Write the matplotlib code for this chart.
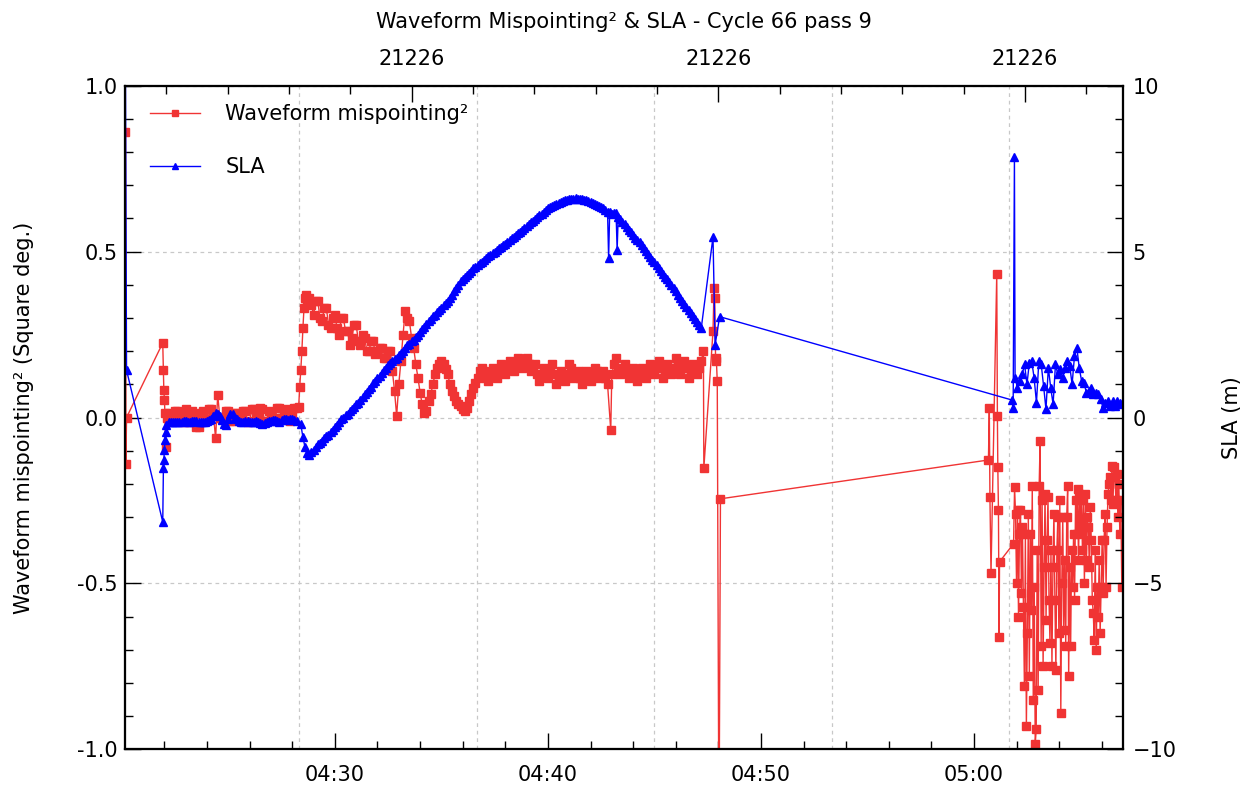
import numpy as np
import matplotlib
matplotlib.use('Agg')
import matplotlib.pyplot as plt
import matplotlib.dates as mdates
from matplotlib.ticker import MultipleLocator, FormatStrFormatter

RED = '#f03434'
BLUE = '#0000ff'
GRID = '#c8c8c8'

# time axis: minutes after 04:20:00
day0 = np.datetime64('2009-01-01T04:20:00')

# ---- waveform mispointing^2 (square deg.) ----
mis_head_t = [0.17, 0.19, 0.22, 1.92, 1.95, 1.97, 2.0, 2.02, 2.05, 2.1]
mis_head_v = [0.86, -0.14, 0.0, 0.225, 0.143, 0.083, 0.053, 0.013, -0.088, 0.0]
# 2.2 .. 8.2 min
mis_flat_v = [0.015, 0.0, -0.01, 0.02, 0.02, 0.005, 0.0, -0.015, 0.025, 0.01,
              -0.015, 0.02, 0.01, -0.03, -0.03, 0.015, 0.02, -0.01, -0.005, 0.025,
              0.025, 0.01, -0.063, 0.068, 0.0, -0.005, 0.0, 0.02, 0.02, -0.01,
              -0.01, 0.015, 0.015, -0.005, 0.0, 0.02, 0.02, -0.015, -0.01, 0.025,
              0.025, 0.0, 0.005, 0.03, 0.025, -0.01, -0.01, 0.02, 0.015, -0.005,
              0.0, 0.03, 0.03, 0.0, 0.01, 0.025, 0.02, -0.01, 0.005, 0.03, 0.03]
mis_rise_t = [8.3, 8.35, 8.4, 8.45, 8.5, 8.55, 8.6, 8.65, 8.7]
mis_rise_v = [0.033, 0.093, 0.143, 0.2, 0.27, 0.33, 0.36, 0.37, 0.35]
# 8.8 .. 12.6 min
mis_decl_v = [0.36, 0.34, 0.31, 0.35, 0.35, 0.3, 0.29, 0.33, 0.33, 0.28,
              0.27, 0.3, 0.31, 0.27, 0.25, 0.3, 0.3, 0.26, 0.26, 0.22,
              0.24, 0.28, 0.28, 0.23, 0.22, 0.25, 0.24, 0.2, 0.2, 0.23,
              0.23, 0.19, 0.2, 0.21, 0.21, 0.18, 0.18, 0.2, 0.2]
# 12.7 .. 16.9 min
mis_osc_v = [0.14, 0.08, 0.005, 0.10, 0.17, 0.25, 0.32, 0.30, 0.29, 0.24,
             0.21, 0.16, 0.12, 0.075, 0.04, 0.015, 0.02, 0.05, 0.07, 0.10,
             0.13, 0.15, 0.16, 0.17, 0.16, 0.145, 0.13, 0.10, 0.08, 0.065,
             0.05, 0.04, 0.035, 0.025, 0.02, 0.03, 0.05, 0.07, 0.09, 0.105,
             0.12, 0.14, 0.15]
# 17.0 .. 22.8 min
mis_band1_v = [0.14, 0.12, 0.11, 0.13, 0.15, 0.14, 0.12, 0.14, 0.16, 0.15,
               0.13, 0.15, 0.17, 0.16, 0.14, 0.16, 0.18, 0.17, 0.15, 0.16,
               0.18, 0.16, 0.14, 0.15, 0.16, 0.13, 0.11, 0.13, 0.15, 0.14,
               0.12, 0.14, 0.16, 0.13, 0.10, 0.12, 0.14, 0.13, 0.11, 0.13,
               0.16, 0.15, 0.12, 0.13, 0.14, 0.12, 0.10, 0.12, 0.14, 0.13,
               0.11, 0.13, 0.15, 0.14, 0.12, 0.13, 0.14, 0.12, 0.10]
mis_spike_t = [22.95]
mis_spike_v = [-0.038]
# 23.0 .. 27.2 min
mis_band2_v = [0.13, 0.16, 0.18, 0.15, 0.13, 0.14, 0.16, 0.14, 0.12, 0.13,
               0.15, 0.13, 0.11, 0.13, 0.15, 0.14, 0.12, 0.14, 0.16, 0.15,
               0.13, 0.15, 0.17, 0.15, 0.12, 0.14, 0.16, 0.15, 0.13, 0.15,
               0.18, 0.16, 0.13, 0.15, 0.17, 0.15, 0.12, 0.14, 0.16, 0.15,
               0.13, 0.15, 0.17]
mis_gap_t = [27.3, 27.32, 27.75, 27.8, 27.83, 27.87, 27.91, 27.95, 28.03, 28.1,
             40.68, 40.72, 40.75, 40.8, 41.07, 41.1, 41.12, 41.15, 41.18, 41.2]
mis_gap_v = [0.20, -0.153, 0.26, 0.39, 0.36, 0.18, 0.17, 0.11, -1.3, -0.245,
             -0.128, 0.028, -0.24, -0.47, 0.432, 0.005, -0.15, -0.28, -0.66, -0.435]
# 41.86 .. 46.94 min
mis_tail_v = [-0.38, -0.21, -0.29, -0.50, -0.28, -0.60, -0.35, -0.28, -0.53, -0.33,
              -0.57, -0.81, -0.35, -0.93, -0.65, -0.29, -0.78, -0.35, -0.58, -0.205,
              -0.85, -0.51, -0.985, -0.94, -0.40, -0.82, -0.205, -0.07, -0.69, -0.25,
              -0.75, -0.45, -0.23, -0.61, -0.37, -0.24, -0.55, -0.68, -0.40, -0.75,
              -0.45, -0.29, -0.55, -0.76, -0.40, -0.30, -0.65, -0.25, -0.89, -0.50,
              -0.30, -0.64, -0.43, -0.69, -0.30, -0.205, -0.78, -0.45, -0.69, -0.40,
              -0.51, -0.35, -0.55, -0.25, -0.35, -0.215, -0.43, -0.23, -0.33, -0.25,
              -0.40, -0.25, -0.50, -0.23, -0.43, -0.30, -0.33, -0.45, -0.27, -0.37,
              -0.55, -0.59, -0.67, -0.40, -0.70, -0.51, -0.60, -0.43, -0.65, -0.51,
              -0.37, -0.53, -0.37, -0.29, -0.51, -0.33, -0.23, -0.20, -0.18, -0.25,
              -0.145, -0.26, -0.15, -0.18, -0.25, -0.17, -0.30, -0.20, -0.35, -0.25,
              -0.51]

# ---- SLA (m) ----
sla_head_t = [0.16, 0.22, 1.92, 1.95, 1.97, 2.0, 2.02, 2.05, 2.08]
sla_head_v = [12.0, 1.43, -3.15, -1.53, -1.28, -0.98, -0.68, -0.43, -0.23]
# 2.2 .. 8.2 min
sla_flat_v = [-0.15, -0.13, -0.12, -0.14, -0.15, -0.13, -0.12, -0.11, -0.1, -0.12,
              -0.13, -0.11, -0.1, -0.11, -0.12, -0.14, -0.15, -0.12, -0.1, -0.08,
              -0.05, 0.05, 0.15, 0.12, 0.05, -0.08, -0.2, -0.22, -0.05, 0.12,
              0.1, -0.02, -0.05, -0.1, -0.12, -0.12, -0.1, -0.1, -0.12, -0.15,
              -0.12, -0.1, -0.15, -0.18, -0.2, -0.18, -0.12, -0.1, -0.1, -0.08,
              -0.08, -0.1, -0.12, -0.08, -0.05, -0.05, -0.08, -0.05, -0.05, -0.08, -0.1]
# 8.4 .. 22.8 min
sla_arc1_v = [-0.2, -0.6, -0.9, -1.08, -1.13, -1.05, -0.97, -0.9, -0.8, -0.78,
              -0.7, -0.62, -0.57, -0.52, -0.43, -0.38, -0.28, -0.22, -0.13, -0.05,
              0.0, 0.08, 0.12, 0.2, 0.25, 0.33, 0.4, 0.45, 0.53, 0.62,
              0.7, 0.77, 0.87, 0.93, 1.03, 1.1, 1.2, 1.26, 1.35, 1.42,
              1.5, 1.58, 1.65, 1.7, 1.76, 1.8, 1.87, 1.95, 2.02, 2.1,
              2.18, 2.22, 2.3, 2.35, 2.42, 2.5, 2.57, 2.66, 2.73, 2.82,
              2.9, 2.97, 3.05, 3.1, 3.18, 3.24, 3.31, 3.38, 3.46, 3.52,
              3.6, 3.7, 3.8, 3.9, 4.0, 4.1, 4.18, 4.24, 4.3, 4.36,
              4.42, 4.5, 4.55, 4.6, 4.65, 4.7, 4.76, 4.8, 4.86, 4.9,
              4.96, 5.0, 5.05, 5.1, 5.15, 5.2, 5.24, 5.3, 5.34, 5.4,
              5.45, 5.5, 5.55, 5.6, 5.66, 5.72, 5.77, 5.82, 5.88, 5.93,
              5.98, 6.04, 6.09, 6.14, 6.19, 6.25, 6.3, 6.34, 6.38, 6.42,
              6.45, 6.48, 6.51, 6.53, 6.55, 6.57, 6.58, 6.6, 6.6, 6.61,
              6.6, 6.6, 6.58, 6.57, 6.55, 6.52, 6.5, 6.48, 6.45, 6.42,
              6.38, 6.34, 6.3, 6.25, 6.2]
sla_arc2_t = [22.85, 22.9, 23.0, 23.1, 23.2, 23.25, 23.3]
sla_arc2_v = [4.8, 6.18, 6.12, 6.15, 6.15, 5.05, 6.05]
# 23.4 .. 27.2 min
sla_arc3_v = [5.98, 5.9, 5.82, 5.74, 5.65, 5.58, 5.5, 5.42, 5.35, 5.28,
              5.2, 5.1, 5.02, 4.94, 4.85, 4.76, 4.68, 4.6, 4.51, 4.42,
              4.34, 4.25, 4.17, 4.08, 3.98, 3.9, 3.8, 3.7, 3.6, 3.52,
              3.43, 3.34, 3.25, 3.15, 3.05, 2.96, 2.87, 2.78, 2.7]
sla_gap_t = [27.75, 27.85, 28.06, 41.77, 41.84, 41.9]
sla_gap_v = [5.44, 2.19, 3.04, 0.53, 0.28, 7.86]
# 41.93 .. 46.95 min
sla_tail_v = [1.2, 0.9, 1.1, 1.3, 1.6, 1.0, 1.65, 1.7, 1.2, 0.45,
              1.7, 1.6, 0.95, 0.25, 1.5, 0.9, 0.4, 1.6, 1.3, 1.45,
              1.2, 1.5, 1.7, 1.55, 1.0, 1.85, 2.1, 1.5, 1.1, 1.05,
              0.75, 0.8, 0.9, 0.7, 0.75, 0.7, 0.55, 0.3, 0.45, 0.5,
              0.35, 0.5, 0.35, 0.5, 0.45, 0.4]

top_labels = ['21226', '21226', '21226']


def seg(t0, t1, vals):
    return list(np.linspace(t0, t1, len(vals)))


def to_time(minutes):
    ms = np.round(np.asarray(minutes) * 60000).astype('int64')
    return day0 + ms.astype('timedelta64[ms]')


mis_t = (mis_head_t + seg(2.2, 8.2, mis_flat_v) + mis_rise_t + seg(8.8, 12.6, mis_decl_v)
         + seg(12.7, 16.9, mis_osc_v) + seg(17.0, 22.8, mis_band1_v) + mis_spike_t
         + seg(23.0, 27.2, mis_band2_v) + mis_gap_t + seg(41.86, 46.94, mis_tail_v))
mis_v = (mis_head_v + mis_flat_v + mis_rise_v + mis_decl_v + mis_osc_v + mis_band1_v
         + mis_spike_v + mis_band2_v + mis_gap_v + mis_tail_v)

sla_t = (sla_head_t + seg(2.2, 8.2, sla_flat_v) + seg(8.4, 22.8, sla_arc1_v) + sla_arc2_t
         + seg(23.4, 27.2, sla_arc3_v) + sla_gap_t + seg(41.93, 46.95, sla_tail_v))
sla_v = (sla_head_v + sla_flat_v + sla_arc1_v + sla_arc2_v + sla_arc3_v + sla_gap_v
         + sla_tail_v)

fig = plt.figure(figsize=(12.48, 7.88), dpi=100)
ax = fig.add_axes([0.1002, 0.0491, 0.7997, 0.8421])

ax.plot(to_time(mis_t), mis_v, '-', color=RED, lw=1.0, marker='s', ms=5.2,
        mec=RED, mfc=RED, label='Waveform mispointing²')
ax.set_ylim(-1, 1)
ax.set_xlim(to_time(0.15), to_time(47.0))

ax2 = ax.twinx()
ax2.plot(to_time(sla_t), sla_v, '-', color=BLUE, lw=1.0, marker='^', ms=5.8,
         mec=BLUE, mfc=BLUE, label='SLA')
ax2.set_ylim(-10, 10)

# grid: horizontal at left major ticks, vertical every 500 s
ax.grid(axis='y', which='major', ls=(0, (3, 3)), color=GRID, lw=0.9)
for t in np.arange(500, 2820, 500) / 60.0:
    ax.axvline(to_time(t), ls=(0, (3, 3)), color=GRID, lw=0.9, zorder=0)

ax.xaxis.set_major_locator(mdates.MinuteLocator(byminute=range(0, 60, 10)))
ax.xaxis.set_minor_locator(mdates.MinuteLocator(byminute=range(0, 60, 2)))
ax.xaxis.set_major_formatter(mdates.DateFormatter('%H:%M'))
ax.yaxis.set_major_locator(MultipleLocator(0.5))
ax.yaxis.set_minor_locator(MultipleLocator(0.1))
ax.yaxis.set_major_formatter(FormatStrFormatter('%.1f'))
ax2.yaxis.set_major_locator(MultipleLocator(5))
ax2.yaxis.set_minor_locator(MultipleLocator(1))

# top axis with pass labels
ax3 = ax.twiny()
ax3.set_xlim(ax.get_xlim())
top_major = mdates.date2num(to_time(13.6 + 14.4 * np.arange(3)))
top_minor = mdates.date2num(to_time(13.6 + 2.88 * np.arange(-4, 12)))
ax3.set_xticks(top_major)
ax3.set_xticklabels(top_labels)
ax3.set_xticks(top_minor, minor=True)

for a in (ax, ax2, ax3):
    a.tick_params(which='both', direction='in', labelsize=15, width=1.0)
    a.tick_params(which='major', length=11.5)
    a.tick_params(which='minor', length=5.5)
    for s in a.spines.values():
        s.set_linewidth(1.5)
ax.tick_params(top=False, right=False)
ax.tick_params(axis='x', pad=11)
ax.tick_params(axis='y', pad=5)
ax2.tick_params(axis='y', pad=7)
ax3.tick_params(axis='x', pad=12)

ax.set_ylabel('Waveform mispointing² (Square deg.)', fontsize=15)
ax.yaxis.set_label_coords(-0.091, 0.5)
ax2.set_ylabel('SLA (m)', fontsize=15)
ax2.yaxis.set_label_coords(1.099, 0.5)

fig.text(0.5, 0.972, 'Waveform Mispointing² & SLA - Cycle 66 pass 9',
         ha='center', va='center', fontsize=15)

h1, l1 = ax.get_legend_handles_labels()
h2, l2 = ax2.get_legend_handles_labels()
ax3.legend(h1 + h2, l1 + l2, loc='upper left', bbox_to_anchor=(0.017, 0.985),
           frameon=False, fontsize=15, handlelength=2.4, handletextpad=1.2,
           labelspacing=1.6, borderaxespad=0, borderpad=0.4, markerscale=0.7)

fig.savefig('out.png', dpi=100)
